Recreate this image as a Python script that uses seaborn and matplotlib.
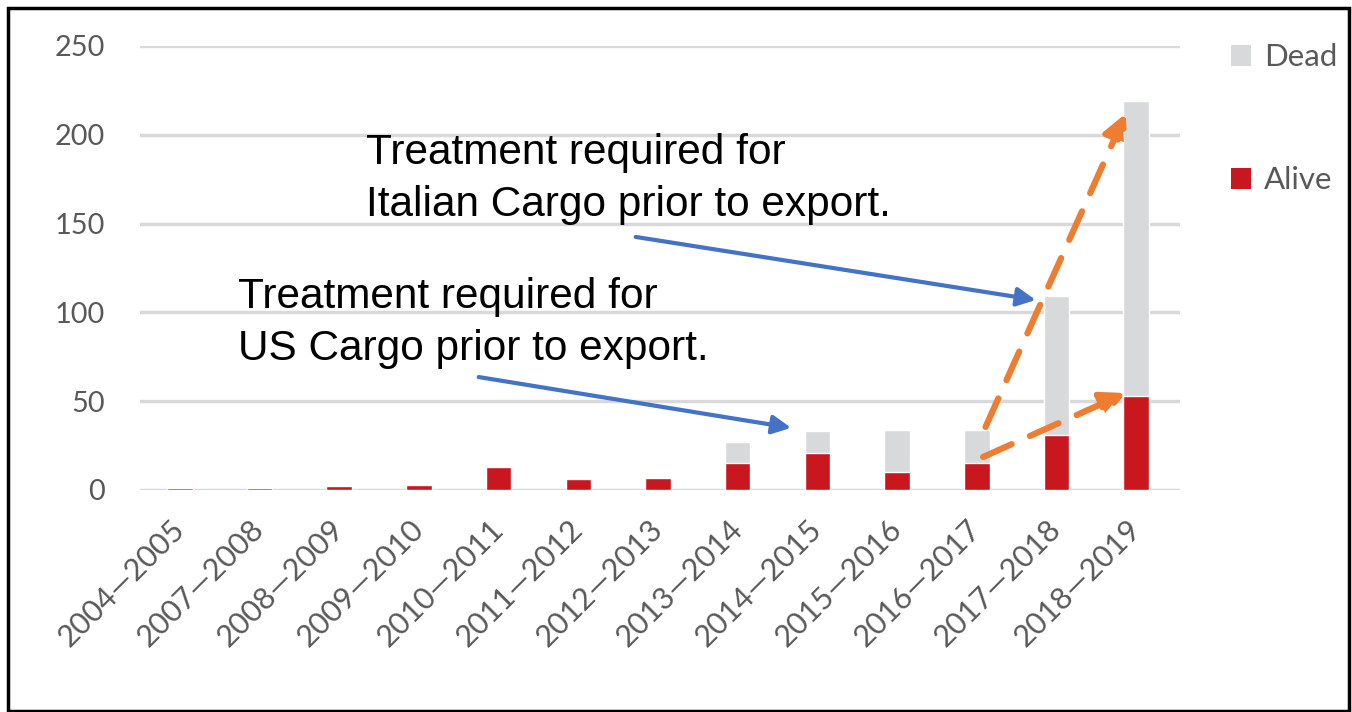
import matplotlib
matplotlib.use("Agg")
import matplotlib.pyplot as plt
import seaborn as sns
import pandas as pd
from matplotlib.patches import Patch, Rectangle

periods = ["2004—2005", "2007—2008", "2008—2009", "2009—2010", "2010—2011",
           "2011—2012", "2012—2013", "2013—2014", "2014—2015", "2015—2016",
           "2016—2017", "2017—2018", "2018—2019"]
alive = [1, 1, 2, 3, 13, 6, 7, 15, 21, 10, 15, 31, 53]
dead = [0, 0, 0, 0, 0, 0, 0, 12, 12, 24, 19, 78, 166]
y_ticks = [0, 50, 100, 150, 200, 250]
series_labels = ["Dead", "Alive"]
note_italian = "Treatment required for\nItalian Cargo prior to export."
note_us = "Treatment required for\nUS Cargo prior to export."

RED = "#C8171F"
GRAY = "#D8D9DB"
TICK = "#595959"

df = pd.DataFrame({"period": periods, "alive": alive, "dead": dead})
df["total"] = df["alive"] + df["dead"]

sns.set_theme(style="white")
plt.rcParams["font.family"] = ["Lato", "DejaVu Sans"]

fig = plt.figure(figsize=(13.52, 7.12), dpi=100)
ax = fig.add_axes([140 / 1352, 1 - 490 / 712, (1180 - 140) / 1352, (490 - 46) / 712])

sns.barplot(data=df, x="period", y="total", color=GRAY, saturation=1, width=0.32, ax=ax, zorder=2)
sns.barplot(data=df, x="period", y="alive", color=RED, saturation=1, width=0.32, ax=ax, zorder=3)

ax.set_xlim(-0.5, 12.55)
ax.set_ylim(0, 250)
ax.set_yticks(y_ticks)
ax.set_xlabel("")
ax.set_ylabel("")
for s in ax.spines.values():
    s.set_visible(False)
ax.yaxis.grid(True, color="#D9D9D9", linewidth=2.5, zorder=0)
ax.set_axisbelow(True)
ax.tick_params(axis="both", length=0, colors=TICK)
ax.tick_params(axis="y", labelsize=20.8, pad=25)
ax.tick_params(axis="x", labelsize=22, pad=25)
for lab in ax.get_xticklabels():
    lab.set_rotation(45)
    lab.set_ha("right")
    lab.set_va("center")
    lab.set_rotation_mode("anchor")

# legend
handles = [Patch(facecolor=GRAY, edgecolor="none"), Patch(facecolor=RED, edgecolor="none")]
fig.legend(handles, series_labels, loc="upper left", bbox_to_anchor=(1203 / 1352, 1 - 15 / 712),
           frameon=False, fontsize=22.5, labelcolor=TICK, handlelength=0.65, handleheight=0.65,
           handletextpad=0.4, labelspacing=3.05)

# annotations
txt_font = ["Liberation Sans", "DejaVu Sans"]
ax.text(2.33, 201, note_italian, fontsize=30.5, family=txt_font, color="black",
        va="top", ha="left", linespacing=1.4, zorder=5)
ax.text(0.73, 120, note_us, fontsize=30.5, family=txt_font, color="black",
        va="top", ha="left", linespacing=1.4, zorder=5)

blue = dict(arrowstyle="-|>", color="#4472C4", lw=3.0, mutation_scale=28, shrinkA=0, shrinkB=0)
ax.annotate("", xy=(10.74, 107), xytext=(5.72, 142.5), arrowprops=blue, zorder=6)
ax.annotate("", xy=(7.67, 35), xytext=(3.75, 63.6), arrowprops=blue, zorder=6)

orange = dict(arrowstyle="-|>", color="#ED7D31", lw=4.5, mutation_scale=36, shrinkA=0, shrinkB=0,
              linestyle=(0, (5, 3.2)))
ax.annotate("", xy=(11.87, 212), xytext=(10.11, 35.5), arrowprops=orange, zorder=6)
ax.annotate("", xy=(11.87, 54.6), xytext=(10.08, 18.6), arrowprops=orange, zorder=6)

# border
fig.patches.append(Rectangle((8 / 1352, 0.002), (1349 - 8) / 1352, 1 - 8 / 712 - 0.002,
                             transform=fig.transFigure, fill=False, edgecolor="black", linewidth=2.5))

fig.savefig("out.png", dpi=100)
